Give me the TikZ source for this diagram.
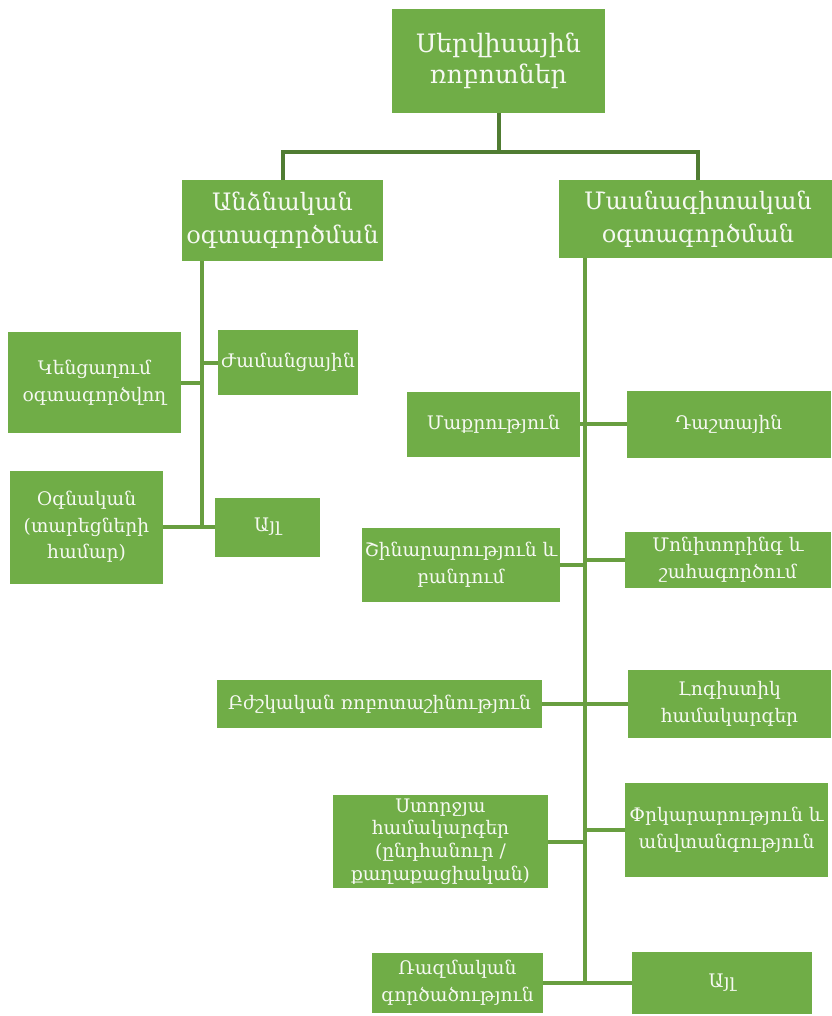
\documentclass[tikz,border=0pt]{standalone}
\usepackage{fontspec}
\setmainfont{DejaVu Serif}
\usepackage{tikz}

\definecolor{boxgreen}{RGB}{112,173,71}
\definecolor{linegreen}{RGB}{104,158,64}
\definecolor{darkgreen}{RGB}{80,124,50}
\definecolor{boxtext}{RGB}{246,249,242}

\begin{document}
\begin{tikzpicture}[x=0.75pt,y=0.75pt,yscale=-1,
	box/.style={fill=boxgreen, text=boxtext, align=center, inner sep=2pt, font=\fontsize{14}{20}\selectfont},
	conn/.style={draw=linegreen, line width=3pt},
	topconn/.style={draw=darkgreen, line width=3pt}]
	\useasboundingbox (0,0) rectangle (831,1016);
	
	%Root box
	\node [box, minimum width=159.75pt, minimum height=78pt, font=\fontsize{19}{23}\selectfont] (root) at (498.5,61) {Սերվիսային\\ռոբոտներ};
	%Second level
	\node [box, minimum width=150.75pt, minimum height=60.75pt, font=\fontsize{18}{25}\selectfont] (personal) at (282.5,220.5) {Անձնական\\օգտագործման};
	\node [box, minimum width=208.5pt, minimum height=58.5pt, font=\fontsize{18}{25}\selectfont] (prof) at (698,219) {Մասնագիտական\\օգտագործման};
	
	%Left branch
	\node [box, minimum width=129.75pt, minimum height=75.75pt] (home) at (94.5,382.5) {Կենցաղում\\օգտագործվող};
	\node [box, minimum width=105pt, minimum height=48.75pt] (leisure) at (288,362.5) {Ժամանցային};
	\node [box, minimum width=114.75pt, minimum height=84.75pt] (helper) at (86.5,527) {Օգնական\\(տարեցների\\համար)};
	\node [box, minimum width=78.75pt, minimum height=44.25pt] (otherL) at (267.5,527) {Այլ};
	
	%Right branch
	\node [box, minimum width=129.75pt, minimum height=48.75pt] (clean) at (493.5,424) {Մաքրություն};
	\node [box, minimum width=153pt, minimum height=50.25pt] (field) at (729,424) {Դաշտային};
	\node [box, minimum width=148.5pt, minimum height=55.5pt] (build) at (461,565) {Շինարարություն և\\բանդում};
	\node [box, minimum width=154.5pt, minimum height=42pt] (monitor) at (728,560) {Մոնիտորինգ և\\շահագործում};
	\node [box, minimum width=243.75pt, minimum height=36pt] (medical) at (379.5,704) {Բժշկական ռոբոտաշինություն};
	\node [box, minimum width=152.25pt, minimum height=51pt] (logistics) at (729.5,704) {Լոգիստիկ\\համակարգեր};
	\node [box, minimum width=161.25pt, minimum height=69.75pt, font=\fontsize{14}{17}\selectfont] (underwater) at (440.5,841.5) {Ստորջյա\\համակարգեր\\(ընդհանուր /\\քաղաքացիական)};
	\node [box, minimum width=152.25pt, minimum height=70.5pt] (rescue) at (726.5,830) {Փրկարարություն և\\անվտանգություն};
	\node [box, minimum width=128.25pt, minimum height=45pt] (military) at (457.5,983) {Ռազմական\\գործածություն};
	\node [box, minimum width=135pt, minimum height=46.5pt] (otherR) at (722,983) {Այլ};
	
	%Top connector
	\coordinate (split) at (498.5,152);
	\draw [topconn] (root.south) -- (split);
	\draw [topconn] (personal.north) |- (split) -| (prof.north);
	
	%Left trunk
	\coordinate (ltop) at (202,261);
	\coordinate (lbot) at (202,527);
	\draw [conn] (ltop) -- (lbot);
	\draw [conn] (home.east) -- (home.east -| ltop);
	\draw [conn] (leisure.west) -- (leisure.west -| ltop);
	\draw [conn] (helper.east) -- (otherL.west);
	
	%Right trunk
	\coordinate (rtop) at (585,258);
	\coordinate (rbot) at (585,983);
	\draw [conn] (rtop) -- (rbot);
	\draw [conn] (clean.east) -- (field.west);
	\draw [conn] (build.east) -- (build.east -| rtop);
	\draw [conn] (monitor.west) -- (monitor.west -| rtop);
	\draw [conn] (medical.east) -- (logistics.west);
	\draw [conn] (underwater.east) -- (underwater.east -| rtop);
	\draw [conn] (rescue.west) -- (rescue.west -| rtop);
	\draw [conn] (military.east) -- (otherR.west);
	
\end{tikzpicture}
\end{document}
